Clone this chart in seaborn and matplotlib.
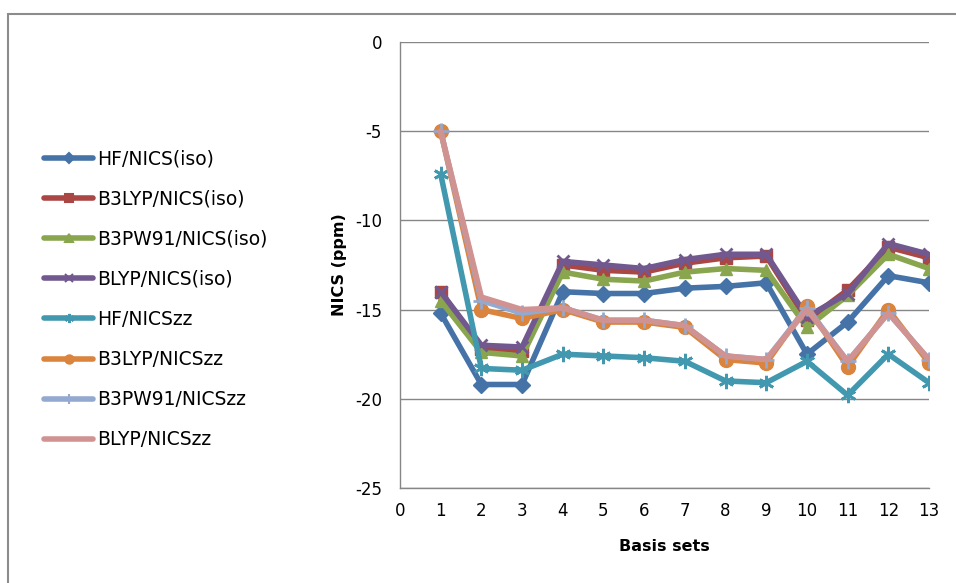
import matplotlib
matplotlib.use("Agg")
import matplotlib.pyplot as plt
import seaborn as sns
import pandas as pd
from matplotlib.lines import Line2D
from matplotlib.patches import Rectangle

basis_sets = list(range(1, 14))

hf_iso = [-15.2, -19.2, -19.2, -14.0, -14.1, -14.1, -13.8, -13.7, -13.5, -17.5, -15.7, -13.1, -13.5]
b3lyp_iso = [-14.0, -17.2, -17.3, -12.5, -12.8, -12.9, -12.4, -12.1, -12.0, -15.6, -13.9, -11.5, -12.1]
b3pw91_iso = [-14.5, -17.4, -17.6, -12.9, -13.3, -13.4, -12.9, -12.7, -12.8, -16.0, -14.2, -11.9, -12.7]
blyp_iso = [-14.0, -17.0, -17.1, -12.3, -12.5, -12.7, -12.2, -11.9, -11.9, -15.4, -14.1, -11.3, -11.9]
hf_zz = [-7.4, -18.3, -18.4, -17.5, -17.6, -17.7, -17.9, -19.0, -19.1, -17.9, -19.8, -17.5, -19.1]
b3lyp_zz = [-5.0, -15.0, -15.5, -15.0, -15.7, -15.7, -16.0, -17.8, -18.0, -14.8, -18.2, -15.0, -18.0]
b3pw91_zz = [-5.0, -14.5, -15.2, -14.9, -15.6, -15.6, -15.9, -17.6, -17.8, -14.9, -17.9, -15.2, -17.8]
blyp_zz = [-5.0, -14.3, -15.0, -14.9, -15.6, -15.6, -15.9, -17.6, -17.8, -15.0, -17.9, -15.2, -17.8]

series_names = ["HF/NICS(iso)", "B3LYP/NICS(iso)", "B3PW91/NICS(iso)", "BLYP/NICS(iso)",
                "HF/NICSzz", "B3LYP/NICSzz", "B3PW91/NICSzz", "BLYP/NICSzz"]
series_values = [hf_iso, b3lyp_iso, b3pw91_iso, blyp_iso, hf_zz, b3lyp_zz, b3pw91_zz, blyp_zz]

colors = ["#4572A7", "#AA4643", "#89A54E", "#71588F", "#4198AF", "#DB843D", "#93A9CF", "#D19392"]
markers = ["D", "s", "^", "x", (6, 2, 0), "o", "+", None]
msizes = [8, 9, 9, 9, 11, 10, 11, 0]

y_ticks = [0, -5, -10, -15, -20, -25]
x_ticks = list(range(0, 14))

df = pd.concat(
    [pd.DataFrame({"Basis sets": basis_sets, "NICS (ppm)": v, "series": n})
     for n, v in zip(series_names, series_values)],
    ignore_index=True,
)

sns.set_theme(style="white")
plt.rcParams["font.family"] = ["DejaVu Sans"]
plt.rcParams["axes.unicode_minus"] = False
plt.rcParams["text.color"] = "black"
plt.rcParams["axes.labelcolor"] = "black"

fig = plt.figure(figsize=(9.56, 5.83), dpi=100)
ax = fig.add_axes([0.4184, 0.163, 0.5534, 0.765])

handles = []
for name, col, mk, ms in zip(series_names, colors, markers, msizes):
    sub = df[df["series"] == name]
    kw = dict(marker=mk, markersize=ms, markeredgewidth=2 if mk in ("x", "+", (6, 2, 0)) else 1,
              markeredgecolor=col, markerfacecolor=col) if mk is not None else {}
    sns.lineplot(data=sub, x="Basis sets", y="NICS (ppm)", ax=ax, color=col,
                 linewidth=4, legend=False, **kw)
    handles.append(Line2D([0], [0], color=col, linewidth=4,
                          marker=mk if mk is not None else "None",
                          markersize=ms * 0.6, markeredgewidth=1.5,
                          markeredgecolor=col, markerfacecolor=col))

ax.set_xlim(0, 13)
ax.set_ylim(-25, 0)
ax.set_xticks(x_ticks)
ax.set_yticks(y_ticks)
ax.tick_params(axis="both", labelsize=12, colors="#000000", length=5, width=1,
               direction="out")
ax.tick_params(axis="x", color="#868686", pad=5)
ax.tick_params(axis="y", color="#868686", pad=8)
ax.set_xlabel("Basis sets", fontsize=11.5, fontweight="bold", labelpad=14, color="black")
ax.set_ylabel("NICS (ppm)", fontsize=11.5, fontweight="bold", labelpad=6, color="black")
ax.yaxis.grid(True, color="#868686", linewidth=1)
ax.xaxis.grid(False)
for side in ("top", "right"):
    ax.spines[side].set_visible(False)
for side in ("left", "bottom"):
    ax.spines[side].set_color("#868686")
    ax.spines[side].set_linewidth(1)
ax.set_axisbelow(True)

leg = fig.legend(handles, series_names, loc="upper left", bbox_to_anchor=(0.0385, 0.757),
                 frameon=False, fontsize=13.5, handlelength=2.6, handletextpad=0.2,
                 labelspacing=1.13, borderaxespad=0)
for t in leg.get_texts():
    t.set_color("black")

fig.patches.append(Rectangle((8 / 956, -0.05), 1.2, 1 - 13.5 / 583 + 0.05,
                             transform=fig.transFigure, fill=False,
                             edgecolor="#8c8c8c", linewidth=1.5))

fig.savefig("out.png", dpi=100)
